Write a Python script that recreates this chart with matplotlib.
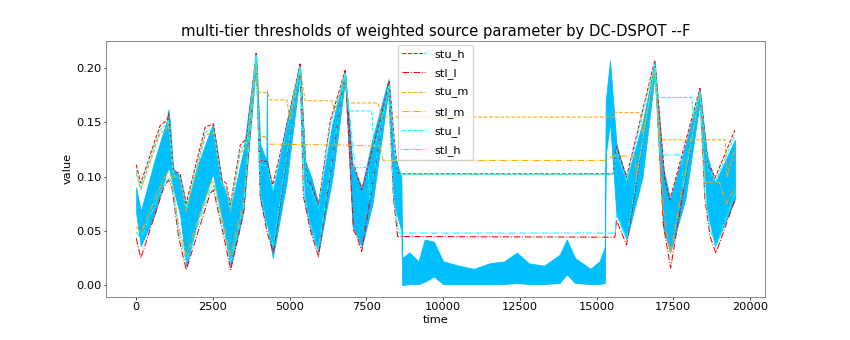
import matplotlib
matplotlib.use("Agg")
import matplotlib.pyplot as plt

plt.rcParams['font.family'] = ['DejaVu Sans']
plt.rcParams['font.size'] = 8.2

# ---- signal (weighted source parameter) envelope ----
sig_t = [0, 150, 600, 1000, 1050, 1100, 1200, 1430, 1630, 2000, 2500, 2800, 3080, 3500, 3910,
         4040, 4240, 4257, 4275, 4450, 4900, 5340, 5500, 5700, 5940, 6400, 6810, 7050, 7350,
         7700, 8220, 8400, 8640, 8670, 8900, 9200, 9400, 9700, 10000, 10500, 11000, 11500,
         12000, 12400, 12800, 13300, 13800, 14030, 14300, 14800, 15100, 15270, 15300, 15440,
         15650, 15980, 16500, 16900, 17170, 17400, 17900, 18370, 18600, 18860, 19510]
sig_upper = [.090, .068, .115, .152, .162, .150, .108, .100, .072, .110, .149, .095, .071, .125,
             .214, .130, .115, .180, .115, .085, .150, .204, .115, .100, .075, .150, .197, .110,
             .090, .135, .190, .120, .100, .025, .030, .022, .042, .040, .022, .018, .015, .020,
             .022, .030, .020, .018, .028, .042, .025, .015, .022, .035, .170, .207, .130, .097,
             .150, .205, .109, .079, .130, .180, .120, .094, .134]
sig_lower = [.066, .036, .065, .105, .108, .105, .090, .065, .017, .060, .103, .060, .017, .070,
             .205, .080, .055, .055, .055, .025, .095, .195, .075, .050, .030, .100, .190, .055,
             .035, .075, .180, .075, .050, .000, .001, .001, .003, .008, .001, .001, .001, .001,
             .001, .002, .001, .001, .002, .010, .002, .001, .001, .002, .120, .150, .065, .042,
             .100, .195, .054, .030, .080, .170, .070, .036, .079]

# ---- thresholds ----
stu_h_t = [0, 150, 620, 780, 1000, 1050, 1220, 1430, 1630, 2250, 2520, 2790, 2930, 3070, 3390, 3600,
           3910, 4040, 4260, 4450, 4800, 5340, 5560, 5670, 5940, 6320, 6810, 7030, 7130, 7350, 7950,
           8250, 8440, 8550, 15540, 15650, 15980, 16900, 17230, 17390, 18370, 18640, 18750, 18860, 19510]
stu_h_v = [.111, .094, .134, .147, .152, .158, .105, .103, .0755, .1456, .1487, .097, .094, .074, .129,
           .1355, .2144, .115, .114, .0924, .134, .204, .097, .0946, .074, .151, .198, .1124, .108, .088,
           .152, .1877, .1247, .1026, .1026, .128, .100, .2076, .097, .0786, .1815, .109, .107, .0986, .143]

stl_l_t = [0, 150, 890, 1050, 1160, 1380, 1630, 2410, 2520, 2900, 3080, 3500, 3910, 4040, 4260, 4470,
           5340, 5450, 5670, 5940, 6810, 7080, 7190, 7350, 8220, 8380, 8520, 15600, 15650, 15980, 16900,
           17180, 17415, 18370, 18530, 18700, 18890, 19510]
stl_l_v = [.0433, .0249, .0894, .097, .091, .0448, .0141, .0848, .0878, .0387, .0141, .066, .2138, .0817,
           .0494, .0295, .203, .0817, .051, .0264, .198, .051, .0448, .031, .186, .0817, .0448, .0442, .060,
           .037, .204, .055, .0157, .180, .080, .045, .0295, .0786]

stu_m_t = [0, 150, 620, 780, 1000, 1050, 1220, 1430, 1630, 2250, 2520, 2790, 2930, 3070, 3390, 3600,
           3910, 4000, 4280, 4365, 4907, 5016, 5340, 5505, 6374, 6480, 6810, 6906, 7883, 8000, 15540,
           15600, 16420, 16515, 16900, 17070, 19190, 19250, 19510]
stu_m_v = [.103, .088, .127, .140, .145, .150, .100, .098, .068, .138, .141, .092, .089, .068, .122, .128,
           .210, .1775, .1775, .1708, .1708, .152, .200, .170, .170, .160, .194, .168, .168, .155, .155,
           .159, .159, .140, .200, .134, .134, .100, .125]

stl_m_t = [0, 150, 890, 1050, 1160, 1380, 1630, 2410, 2520, 2900, 3080, 3500, 3910, 4000, 4200, 4330,
           7000, 7948, 8050, 15330, 15540, 16255, 16300, 16900, 17180, 17415, 18370, 18530, 19000,
           19240, 19510]
stl_m_v = [.054, .048, .098, .104, .099, .055, .028, .093, .096, .050, .028, .078, .210, .137, .137, .130,
           .129, .128, .115, .115, .119, .119, .100, .200, .068, .030, .178, .095, .095, .075, .090]

stu_l_t = [0, 150, 620, 780, 1000, 1050, 1220, 1430, 1630, 2250, 2520, 2790, 2930, 3070, 3390, 3600,
           3910, 4040, 4260, 4450, 4800, 5340, 5560, 5670, 5940, 6320, 6810, 6915, 7677, 7750, 7950,
           8250, 8440, 8550, 15540, 15650, 15980, 16900, 17000, 18100, 18160, 18370, 18640, 18750,
           18860, 19510]
stu_l_v = [.106, .090, .130, .143, .148, .153, .101, .099, .071, .141, .144, .093, .090, .070, .125, .131,
           .212, .111, .110, .088, .130, .202, .093, .091, .070, .147, .196, .1606, .1606, .126, .148,
           .185, .120, .1021, .1021, .124, .096, .205, .173, .173, .155, .179, .105, .103, .095, .138]

stl_h_t = [0, 150, 890, 1050, 1160, 1380, 1630, 2410, 2520, 2900, 3080, 3500, 3910, 4040, 4260, 4470,
           5340, 5450, 5670, 5940, 6810, 7134, 7557, 7610, 8220, 8380, 8550, 15540, 15600, 15650, 15980,
           16900, 17070, 17775, 17830, 18370, 18530, 18700, 18890, 19510]
stl_h_v = [.049, .043, .093, .100, .095, .050, .022, .089, .092, .044, .022, .072, .212, .087, .055, .036,
           .201, .087, .057, .033, .196, .1084, .1084, .080, .184, .087, .048, .048, .048, .066, .043,
           .202, .120, .120, .090, .178, .086, .052, .036, .085]

fig = plt.figure(figsize=(8.5, 3.4), dpi=100)
fig.subplots_adjust(left=0.125, right=0.9, top=0.88, bottom=0.127)
ax = fig.add_subplot(111)

lw = 0.75
ax.plot(stu_h_t, stu_h_v, color='red', ls='--', lw=lw, label='stu_h')
ax.plot(stl_l_t, stl_l_v, color='red', ls='-.', lw=lw, label='stl_l')
ax.plot(stu_m_t, stu_m_v, color='orange', ls='--', lw=lw, label='stu_m')
ax.plot(stl_m_t, stl_m_v, color='orange', ls='-.', lw=lw, label='stl_m')
ax.plot(stu_l_t, stu_l_v, color='cyan', ls='--', lw=lw, label='stu_l')
ax.plot(stl_h_t, stl_h_v, color='cyan', ls='-.', lw=lw, label='stl_h')

ax.fill_between(sig_t, sig_lower, sig_upper, color='deepskyblue', lw=0.6, zorder=1.5)

ax.set_xlim(-976, 20490)
ax.set_ylim(-0.0108, 0.2253)
ax.set_title('multi-tier thresholds of weighted source parameter by DC-DSPOT --F',
             fontsize=10.6, pad=3.5)
ax.set_xlabel('time', labelpad=2)
ax.set_ylabel('value', labelpad=2)
ax.tick_params(length=1.8, pad=1.8, width=0.5)
for s in ax.spines.values():
    s.set_color('#777777')
    s.set_linewidth(0.6)
ax.legend(loc='upper center', fontsize=8.2, labelspacing=0.72, handlelength=2.0,
          borderaxespad=0.35)

fig.savefig('out.png', dpi=100)
